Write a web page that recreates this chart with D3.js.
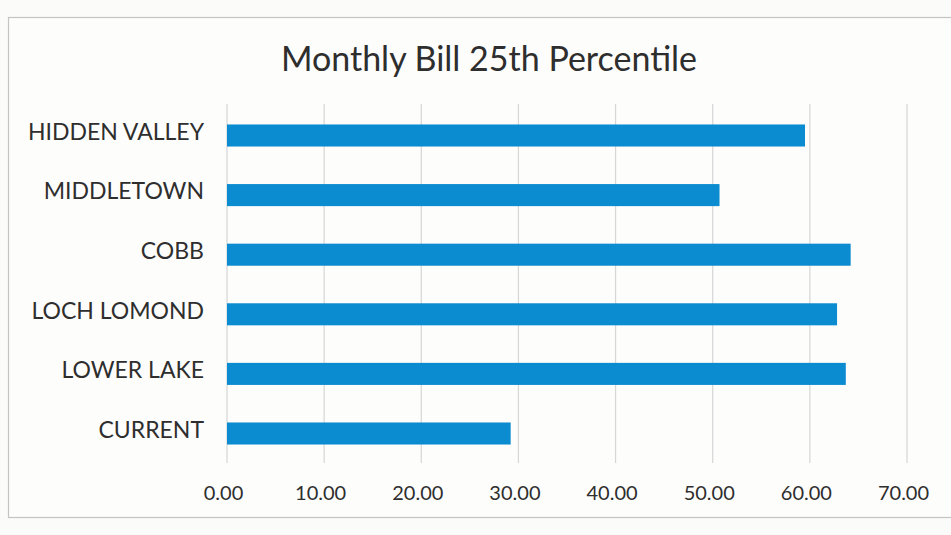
<!DOCTYPE html>
<html>
<head>
<meta charset="utf-8">
<script src="https://cdnjs.cloudflare.com/ajax/libs/d3/7.8.5/d3.min.js"></script>
<style>
  html, body { margin: 0; padding: 0; background: #fbfbfa; }
  svg { display: block; font-family: Lato, "Open Sans", sans-serif; }
</style>
</head>
<body>
<svg id="chart" width="951" height="535"></svg>
<script>
const title = "Monthly Bill 25th Percentile";
const categories = ["HIDDEN VALLEY", "MIDDLETOWN", "COBB", "LOCH LOMOND", "LOWER LAKE", "CURRENT"];
const values = [59.5, 50.7, 64.2, 62.8, 63.7, 29.2];
const tickValues = [0, 10, 20, 30, 40, 50, 60, 70];

const svg = d3.select("#chart");
const W = 951, H = 535;

// chart frame
svg.append("rect").attr("x", 0).attr("y", 0).attr("width", W).attr("height", H).attr("fill", "#fbfbfa");
svg.append("rect")
  .attr("x", 8.5).attr("y", 17.5).attr("width", 960).attr("height", 500)
  .attr("fill", "#fdfdfc").attr("stroke", "#c4c4c4").attr("stroke-width", 1.2);

const x = d3.scaleLinear().domain([0, 70]).range([227, 907]);
const y = d3.scaleBand().domain(categories).range([106, 463]).paddingInner(0.63).paddingOuter(0.31);

// gridlines
svg.append("g").selectAll("line").data(tickValues).join("line")
  .attr("x1", d => x(d)).attr("x2", d => x(d))
  .attr("y1", 104).attr("y2", 463)
  .attr("stroke", "#d6d6d6").attr("stroke-width", 1.2);

// bars
svg.append("g").selectAll("rect").data(values).join("rect")
  .attr("x", x(0))
  .attr("y", (d, i) => y(categories[i]))
  .attr("width", d => x(d) - x(0))
  .attr("height", y.bandwidth())
  .attr("fill", "#0b8bd0");

// category axis
const yAxis = d3.axisLeft(y).tickSize(0).tickPadding(23);
const gy = svg.append("g").attr("transform", `translate(${x(0)},-3)`).call(yAxis);
gy.select(".domain").remove();
gy.selectAll("text").attr("font-size", 23).attr("fill", "#2e2e2e").attr("font-family", "Lato, sans-serif");

// value axis
const xAxis = d3.axisBottom(x).tickValues(tickValues).tickFormat(d3.format(".2f")).tickSize(0).tickPadding(0);
const gx = svg.append("g").attr("transform", `translate(-4,486)`).call(xAxis);
gx.select(".domain").remove();
gx.selectAll("text").attr("font-size", 20).attr("fill", "#2e2e2e").attr("font-family", "Lato, sans-serif");

// title
svg.append("text")
  .attr("x", 489).attr("y", 71)
  .attr("text-anchor", "middle")
  .attr("font-size", 34)
  .attr("fill", "#2e2e2e")
  .text(title);
</script>
</body>
</html>
